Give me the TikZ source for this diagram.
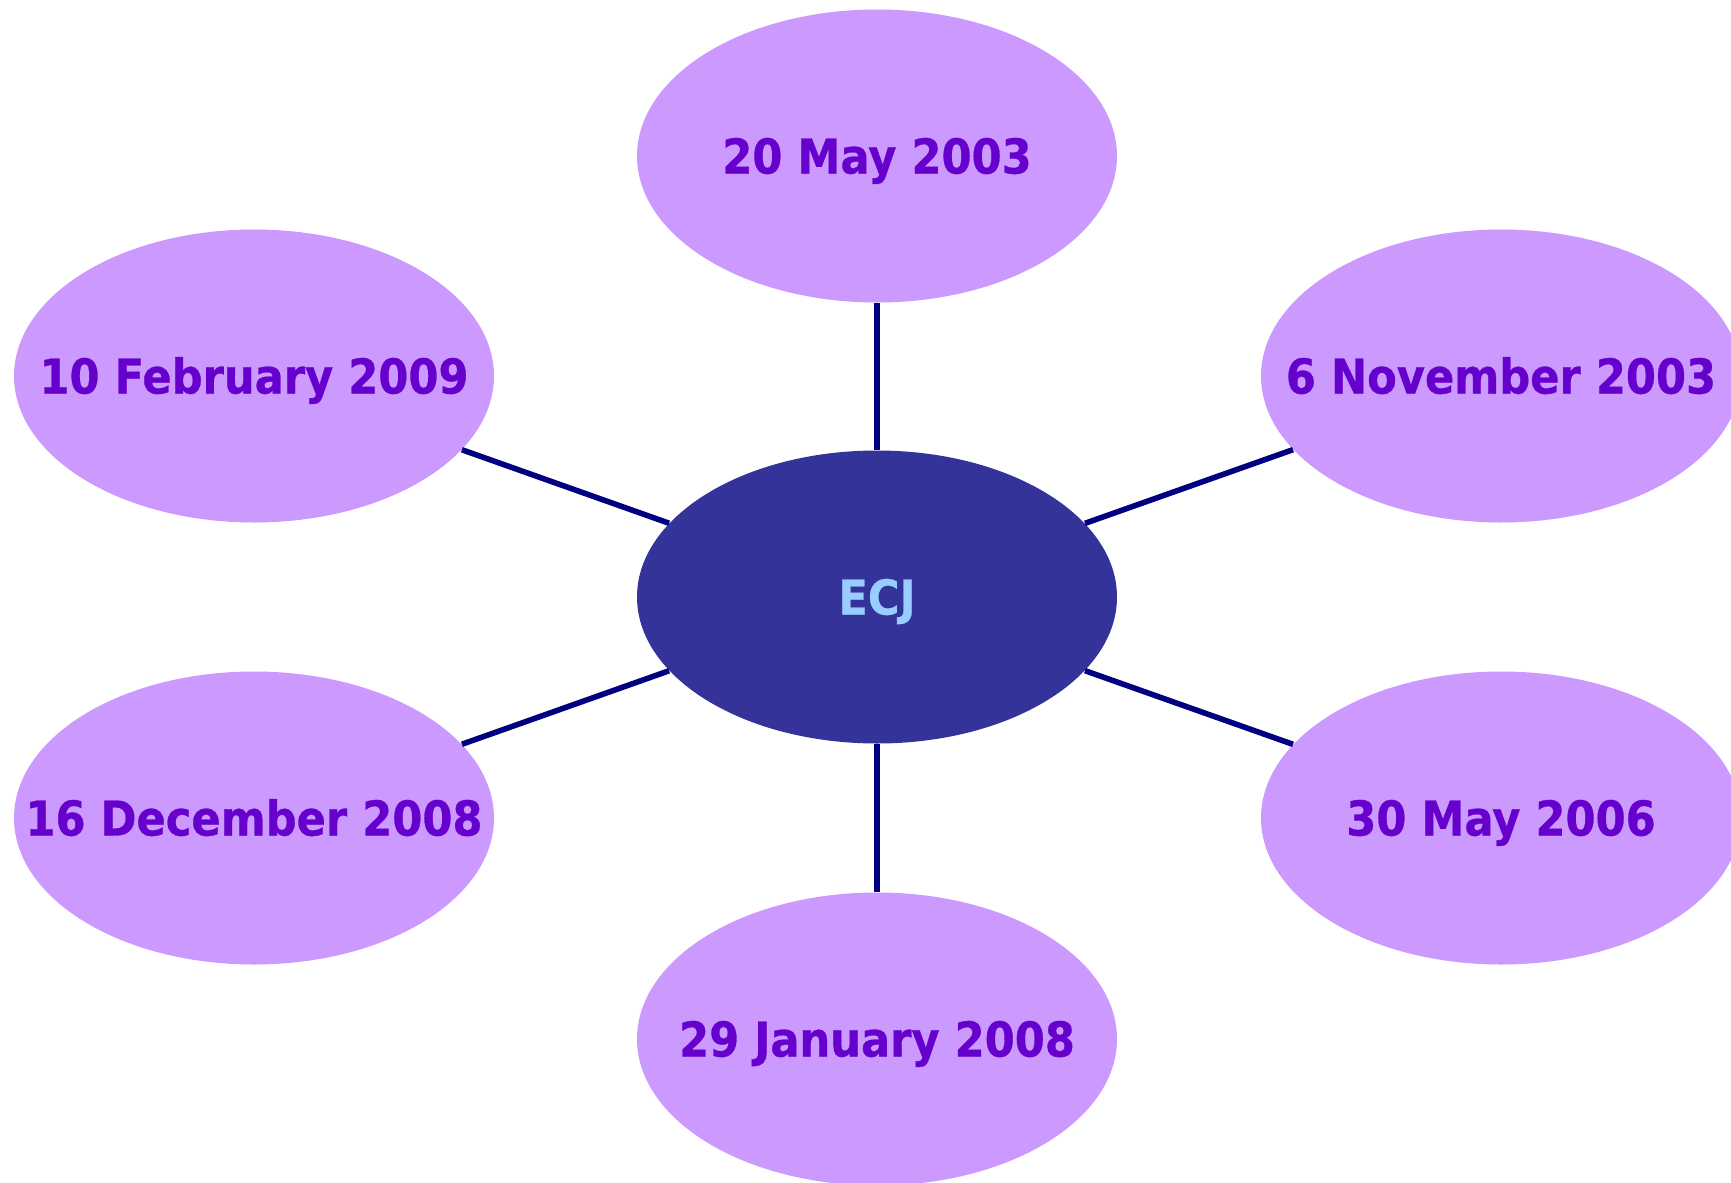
\documentclass[tikz,border=0pt]{standalone}
\usepackage{fontspec}
\usetikzlibrary{shapes.geometric}
\newfontfamily\datefont[FakeStretch=0.9, FakeBold=0.6]{DejaVu Sans Bold}

\definecolor{lilac}{HTML}{CC99FF}
\definecolor{hubblue}{HTML}{333399}
\definecolor{datepurple}{HTML}{6600CC}
\definecolor{ecjblue}{HTML}{99CCFF}
\definecolor{spokenavy}{HTML}{000080}

\tikzstyle{date} = [ellipse, fill=lilac, minimum width=240pt, minimum height=146.5pt, inner sep=0pt]
\tikzstyle{hub} = [date, fill=hubblue]
\tikzstyle{datelabel} = [font=\datefont\fontsize{24}{28}\selectfont, text=datepurple, inner sep=0pt, text height=17.5pt, text depth=0pt]
\tikzstyle{spoke} = [draw=spokenavy, line width=2.8pt]

\begin{document}
\begin{tikzpicture}[x=0.5pt, y=-0.5pt]
        \useasboundingbox (0,0) rectangle (1731,1183);
        % Hub in the middle
        \node (hub) at (877,597) [hub, label={[datelabel, text=ecjblue]center:ECJ}] {};
        % Dates round it
        \node (n1) at (877,156) [date, label={[datelabel]center:20 May 2003}] {};
        \node (n2) at (1501,376) [date, label={[datelabel]center:6 November 2003}] {};
        \node (n3) at (1501,818) [date, label={[datelabel]center:30 May 2006}] {};
        \node (n4) at (877,1039) [date, label={[datelabel]center:29 January 2008}] {};
        \node (n5) at (254,818) [date, label={[datelabel]center:16 December 2008}] {};
        \node (n6) at (254,376) [date, label={[datelabel]center:10 February 2009}] {};
        \foreach \n in {n1,n2,n3,n4,n5,n6}
            \draw[spoke] (hub) -- (\n);
    \end{tikzpicture}
\end{document}
